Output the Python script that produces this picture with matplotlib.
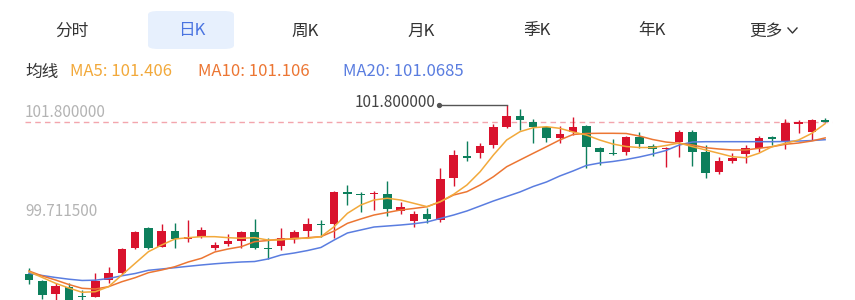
import matplotlib
matplotlib.use("Agg")
import matplotlib.pyplot as plt
from matplotlib.patches import FancyBboxPatch
from matplotlib.lines import Line2D

plt.rcParams['font.family'] = ['Noto Sans CJK SC', 'DejaVu Sans']

# --- data ---
tabs = ["分时", "日K", "周K", "月K", "季K", "年K", "更多"]
active_tab = "日K"
ma_title = "均线"
ma_labels = ["MA5: 101.406", "MA10: 101.106", "MA20: 101.0685"]
y_ticks = [101.8, 99.7115]

opens = [98.228, 98.087, 97.806, 97.967, 97.771, 97.756, 98.108, 98.250, 98.777, 99.199,
         98.811, 99.142, 98.973, 99.022, 98.790, 98.861, 98.931, 99.127, 98.790, 98.832,
         99.001, 99.142, 99.279, 99.283, 99.971, 99.922, 99.916, 99.916, 99.564, 99.353,
         99.494, 99.374, 100.254, 100.724, 100.781, 100.956, 101.330, 101.574, 101.448, 101.330,
         101.110, 101.224, 101.363, 100.886, 100.781, 100.802, 101.131, 100.941, 100.872, 101.013,
         101.237, 100.802, 100.380, 100.625, 100.760, 100.899, 101.131, 101.041, 101.393, 101.224,
         101.476]
closes = [98.102, 97.792, 97.988, 97.665, 97.739, 98.087, 98.250, 98.762, 99.114, 98.790,
          99.142, 98.973, 99.022, 99.163, 98.847, 98.931, 99.127, 98.790, 98.762, 98.988,
          99.127, 99.283, 99.258, 99.958, 99.929, 99.901, 99.950, 99.606, 99.655, 99.494,
          99.395, 100.239, 100.745, 100.688, 100.941, 101.342, 101.574, 101.484, 101.330, 101.097,
          101.182, 101.342, 100.920, 100.802, 100.760, 101.131, 100.971, 100.872, 100.899, 101.224,
          100.815, 100.359, 100.619, 100.676, 100.886, 101.110, 101.076, 101.414, 101.435, 101.484,
          101.448]
highs = [98.355, 98.108, 98.045, 98.045, 97.897, 98.250, 98.389, 98.783, 99.148, 99.233,
         99.283, 99.317, 99.374, 99.233, 98.916, 99.072, 99.142, 99.395, 99.001, 99.211,
         99.163, 99.410, 99.374, 99.986, 100.112, 99.954, 99.992, 100.197, 99.760, 99.564,
         99.621, 100.477, 100.851, 101.041, 100.992, 101.393, 101.800, 101.716, 101.505, 101.346,
         101.363, 101.553, 101.378, 100.920, 101.083, 101.146, 101.224, 100.971, 100.914, 101.273,
         101.273, 100.956, 100.709, 100.781, 100.956, 101.152, 101.146, 101.505, 101.484, 101.505,
         101.519]
lows = [98.024, 97.707, 97.686, 97.623, 97.665, 97.739, 98.045, 98.214, 98.762, 98.762,
        98.804, 98.790, 98.903, 99.001, 98.741, 98.832, 98.777, 98.762, 98.551, 98.741,
        98.882, 99.001, 99.022, 99.001, 99.690, 99.549, 99.585, 99.465, 99.494, 99.233,
        99.304, 99.338, 100.098, 100.619, 100.676, 100.899, 101.315, 101.273, 100.992, 101.026,
        100.992, 101.167, 100.477, 100.534, 100.745, 100.745, 100.886, 100.730, 100.498, 100.709,
        100.519, 100.254, 100.338, 100.570, 100.570, 100.802, 100.956, 100.872, 101.203, 101.062,
        101.440]

ma5 = [98.283, 98.161, 98.039, 97.939, 97.849, 97.861, 97.967, 98.214, 98.460, 98.705,
       98.847, 98.973, 99.001, 99.022, 99.022, 99.001, 98.988, 99.001, 98.952, 98.952,
       98.988, 98.988, 99.022, 99.233, 99.515, 99.690, 99.796, 99.832, 99.796, 99.726,
       99.655, 99.760, 99.916, 100.112, 100.393, 100.745, 101.062, 101.237, 101.321, 101.342,
       101.308, 101.230, 101.167, 101.062, 100.977, 100.924, 100.903, 100.903, 100.946, 100.998,
       100.920, 100.851, 100.781, 100.709, 100.688, 100.781, 100.920, 100.992, 101.062, 101.203,
       101.406]
ma10 = [98.298, 98.193, 98.108, 98.013, 97.933, 97.918, 97.967, 98.072, 98.157, 98.262,
        98.319, 98.389, 98.488, 98.566, 98.699, 98.762, 98.811, 98.916, 98.941, 98.973,
        98.973, 99.001, 99.022, 99.142, 99.304, 99.395, 99.479, 99.532, 99.585, 99.617,
        99.654, 99.760, 99.901, 99.971, 100.112, 100.287, 100.498, 100.640, 100.781, 100.920,
        101.062, 101.178, 101.199, 101.203, 101.203, 101.199, 101.146, 101.072, 101.019, 100.992,
        100.956, 100.899, 100.872, 100.851, 100.851, 100.886, 100.920, 100.971, 100.998, 101.041,
        101.106]
ma20 = [98.249, 98.203, 98.161, 98.125, 98.098, 98.104, 98.140, 98.197, 98.245, 98.313,
        98.340, 98.368, 98.397, 98.425, 98.450, 98.471, 98.488, 98.498, 98.551, 98.636,
        98.678, 98.730, 98.794, 98.952, 99.100, 99.163, 99.226, 99.247, 99.268, 99.294,
        99.332, 99.406, 99.479, 99.564, 99.669, 99.775, 99.870, 99.965, 100.081, 100.176,
        100.302, 100.408, 100.524, 100.576, 100.608, 100.650, 100.703, 100.766, 100.840, 100.956,
        101.019, 101.026, 101.026, 101.026, 101.026, 101.026, 101.026, 101.030, 101.040, 101.050,
        101.068]

UP = '#d9122d'
DOWN = '#0d7f5c'
MA_COLORS = ['#f2a93b', '#ec7633', '#5a7de0']

W, H = 855, 300
fig = plt.figure(figsize=(W / 100, H / 100), dpi=100)


def fx(x):
    return x / W


def fy(y):
    return 1 - y / H


# tab bar
tab_x = [72, 192, 305, 421, 537, 652, 766]
for name, x in zip(tabs, tab_x):
    if name == active_tab:
        box = FancyBboxPatch((fx(148), fy(49)), fx(234) - fx(148), fy(11) - fy(49),
                             boxstyle="round,pad=0,rounding_size=0.012",
                             transform=fig.transFigure, fc='#e7f0fd', ec='none')
        fig.patches.append(box)
        fig.text(fx(x), fy(31), name, ha='center', va='center', fontsize=12, color='#4a74e0')
    else:
        fig.text(fx(x), fy(31), name, ha='center', va='center', fontsize=12, color='#333333')
# chevron after 更多
fig.add_artist(Line2D([fx(788), fx(792.5), fx(797)], [fy(28), fy(33), fy(28)],
                      transform=fig.transFigure, color='#333333', lw=1.0))

# MA legend row
fig.text(fx(25), fy(72), ma_title, ha='left', va='center', fontsize=12, color='#333333')
leg_x = [70, 198, 343]
for lab, x, c in zip(ma_labels, leg_x, MA_COLORS):
    fig.text(fx(x), fy(72), lab, ha='left', va='center', fontsize=12, color=c)

# price chart
ax = fig.add_axes([0, 0, 1, fy(95)])
ax.set_xlim(-2.185, 62.25)
ax.set_ylim(97.686, 102.011)
ax.axis('off')

idx = list(range(len(opens)))
for i in idx:
    o, c, h, l = opens[i], closes[i], highs[i], lows[i]
    col = UP if c >= o else DOWN
    ax.vlines(i, l, h, color=col, lw=1.0, zorder=2)
    bottom = min(o, c)
    height = max(abs(c - o), 0.03)
    ax.bar(i, height, bottom=bottom, width=0.64, color=col, zorder=3, linewidth=0)

for ma, col in zip([ma20, ma10, ma5], MA_COLORS[::-1]):
    ax.plot(idx, ma, color=col, lw=1.1, zorder=4)

# latest price dashed line
ax.hlines(closes[-1], -0.3, 60.5, colors='#f3a5ad', linestyles=(0, (4, 3)), lw=1.0, zorder=1)

# y-axis labels sitting just under their levels
for v in y_ticks:
    ax.annotate(f"{v:.6f}", xy=(-0.3, v), xytext=(0, -5.3), textcoords='offset points',
                ha='left', va='center', fontsize=11, color='#b4b4b4')

# max high marker
imax = highs.index(max(highs))
x_end = imax - 5.1
ax.plot([x_end, imax], [highs[imax], highs[imax]], color='#555555', lw=1.0, zorder=5)
ax.plot([x_end], [highs[imax]], 'o', color='#555555', ms=2.8, zorder=5)
ax.annotate(f"{highs[imax]:.6f}", xy=(x_end, highs[imax]), xytext=(-2.5, 1.5),
            textcoords='offset points', ha='right', va='center', fontsize=11, color='#444444')

fig.savefig('out.png', dpi=100)
